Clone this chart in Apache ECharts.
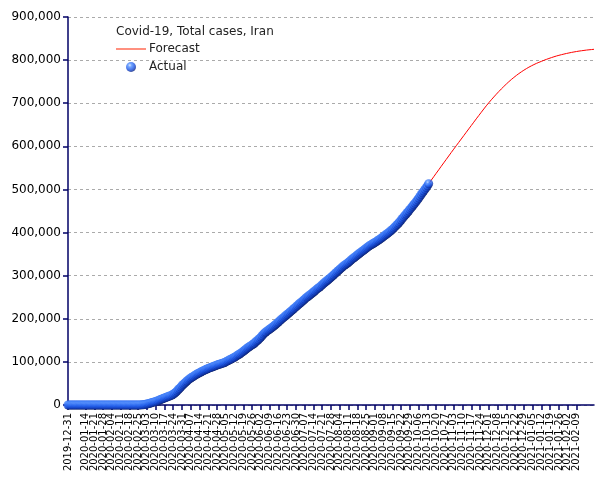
<!DOCTYPE html>
<html>
<head>
<meta charset="utf-8">
<script src="https://cdn.jsdelivr.net/npm/echarts@6/dist/echarts.min.js"></script>
<style>html,body{margin:0;padding:0;background:#fff}#c{width:605px;height:480px}</style>
</head>
<body>
<div id="c"></div>
<script>
// Weekly tick labels on the x axis
var tickLabels = ["2019-12-31","2020-01-07","2020-01-14","2020-01-21","2020-01-28","2020-02-04","2020-02-11","2020-02-18","2020-02-25","2020-03-03","2020-03-10","2020-03-17","2020-03-24","2020-03-31","2020-04-07","2020-04-14","2020-04-21","2020-04-28","2020-05-05","2020-05-12","2020-05-19","2020-05-26","2020-06-02","2020-06-09","2020-06-16","2020-06-23","2020-06-30","2020-07-07","2020-07-14","2020-07-21","2020-07-28","2020-08-04","2020-08-11","2020-08-18","2020-08-25","2020-09-01","2020-09-08","2020-09-15","2020-09-22","2020-09-29","2020-10-06","2020-10-13","2020-10-20","2020-10-27","2020-11-03","2020-11-10","2020-11-17","2020-11-24","2020-12-01","2020-12-08","2020-12-15","2020-12-22","2020-12-29","2021-01-05","2021-01-12","2021-01-19","2021-01-26","2021-02-02","2021-02-09","2021-02-16"];
var firstDay = "2019-12-31";
var lastDay = "2021-02-23";

// Actual total cases, daily from 2019-12-31 to 2020-10-14
var actual = [
0,0,0,0,0,0,0,0,0,0,0,0,0,0,0,0,0,0,0,0,0,0,0,0,0,0,0,0,0,0,0,0,0,0,0,0,0,0,0,0,0,0,0,0,0,0,0,0,0,0,
2,5,18,28,43,61,95,139,245,388,593,
978,1501,2336,2922,3513,4747,5823,6566,7161,8042,9000,10075,11364,12729,13938,14991,16169,17361,18407,19644,20610,21638,23049,24811,27017,29406,32332,35408,38309,41495,44605,
47593,50468,53183,55743,58226,60500,62589,64586,66220,68192,70029,71686,73303,74877,76389,77995,79494,80868,82211,83505,84802,85996,87026,88194,89328,90481,91472,92584,93657,94640,
95646,96448,97424,98647,99970,101650,103135,104691,106220,107603,109286,110767,112725,114533,116635,118392,120198,122492,124603,126949,129341,131652,133521,135701,137724,139511,141591,143849,146668,148950,151466,
154445,157562,160696,164270,167156,169425,171789,173832,175927,177938,180156,182525,184955,187427,189876,192439,195051,197647,200262,202584,204952,207525,209970,212501,215096,217724,220180,222669,225205,227662,
230211,232863,235429,237878,240438,243051,245688,248379,250458,252720,255117,257303,259652,262173,264561,267061,269440,271606,273788,276202,278827,281413,284034,286523,288839,291172,293606,296273,298909,301530,304204,
306752,309437,312035,314786,317483,320117,322567,324692,326712,328844,331189,333699,336324,338825,341070,343203,345450,347835,350279,352558,354764,356792,358905,361150,363363,365606,367796,369911,371816,373570,375212,
376894,378752,380746,382772,384666,386658,388810,391112,393425,395488,397801,399940,402029,404648,407353,410334,413149,416198,419043,422140,425481,429193,432798,436319,439882,443086,446448,449960,453637,457219,
461044,464596,468119,471772,475674,479825,483844,488236,492378,496253,500075,504281,508389,513219
];

// Forecast, daily from 2020-10-14 to 2021-02-23
var forecast = [
513219,517200,521300,525300,529400,533400,537500,541500,545500,549600,553600,557600,561600,565600,569600,573600,577600,581600,585600,589500,593500,597400,601400,
605300,609200,613100,617000,620900,624800,628700,632600,636500,640400,644300,648200,652100,656000,659900,663800,667600,671400,675200,679000,682800,686600,690300,694000,697600,
701100,704500,707900,711200,714500,717700,720900,724000,727100,730100,733100,736000,738900,741700,744500,747200,749900,752500,
755000,757400,759800,762100,764400,766600,768700,770800,772800,774700,776600,778400,780200,781900,783600,785200,786700,788200,789600,791000,792300,793600,794800,796000,797100,
798300,799500,800600,801700,802800,803800,804800,805800,806800,807700,808600,809500,
810300,811100,811900,812600,813300,814000,814700,815400,816000,816600,817200,817800,818400,
818900,819400,819900,820400,820900,821300,821700,822100,822500,822900,823300,823600,823900,824200,824500,824800,825100
];

// yAxis ticks
var yMin = 0, yMax = 900000, yStep = 100000;

// daily categories
var categories = [];
(function(){
  var d = new Date(firstDay + "T00:00:00Z"), end = new Date(lastDay + "T00:00:00Z");
  while (d <= end) { categories.push(d.toISOString().slice(0,10)); d = new Date(d.getTime() + 86400000); }
})();
var tickSet = new Set(tickLabels);
var forecastStart = categories.indexOf("2020-10-14");
var forecastSeries = new Array(forecastStart).fill(null).concat(forecast);

function fmt(v){ return String(v).replace(/\B(?=(\d{3})+(?!\d))/g, ","); }

var FONT = "DejaVu Sans";
var chart = echarts.init(document.getElementById('c'), null, {renderer:'canvas'});
chart.setOption({
  animation: false,
  backgroundColor: '#ffffff',
  title: {
    text: 'Covid-19, Total cases, Iran',
    left: 111, top: 21,
    textStyle: {fontFamily: FONT, fontSize: 12, fontWeight: 'normal', color: '#222'}
  },
  legend: {
    orient: 'vertical', left: 111, top: 38,
    itemWidth: 30, itemHeight: 10, itemGap: 6,
    textStyle: {fontFamily: FONT, fontSize: 12, color: '#222', padding: [0,0,0,-2]},
    data: [
      {name: 'Forecast', icon: 'path://M0,0H0.01V0.01H0ZM0,4.5H30V5.5H0ZM29.99,9.99H30V10H29.99Z', itemStyle: {color: '#ff2200'}},
      {name: 'Actual'}
    ]
  },
  grid: {left: 68, right: 11, top: 17, bottom: 75, containLabel: false},
  xAxis: {
    type: 'category', data: categories, boundaryGap: false,
    axisLine: {lineStyle: {color: '#000066', width: 1.5}},
    axisTick: {show: true, length: 5, inside: false, interval: function(i, v){ return tickSet.has(v); }, lineStyle: {color: '#000066', width: 1.5}},
    axisLabel: {rotate: 90, showMinLabel: true, interval: function(i, v){ return tickSet.has(v); }, fontFamily: FONT, fontSize: 10, color: '#000', margin: 8},
    splitLine: {show: false}
  },
  yAxis: {
    type: 'value', min: yMin, max: yMax, interval: yStep,
    axisLine: {show: true, lineStyle: {color: '#000066', width: 1.5}},
    axisTick: {show: true, length: 5, lineStyle: {color: '#000066', width: 1.5}},
    axisLabel: {formatter: fmt, fontFamily: FONT, fontSize: 12, color: '#000', margin: 7},
    splitLine: {show: true, lineStyle: {color: '#aaaaaa', type: [3,3], width: 1}}
  },
  series: [
    {
      name: 'Forecast', type: 'line', data: forecastSeries, symbol: 'none',
      lineStyle: {color: '#ff0000', width: 1}, itemStyle: {color: '#ff0000'}, z: 2
    },
    {
      name: 'Actual', type: 'scatter', data: actual, symbol: 'circle', symbolSize: 9,
      itemStyle: {
        color: {type: 'radial', x: 0.38, y: 0.32, r: 0.72, colorStops: [
          {offset: 0, color: '#d2e3ff'}, {offset: 0.25, color: '#5290ff'},
          {offset: 0.6, color: '#1f5ae8'}, {offset: 0.88, color: '#0d2fa0'}, {offset: 1, color: '#061a5c'}]}
      }, z: 3
    }
  ]
});
</script>
</body>
</html>
